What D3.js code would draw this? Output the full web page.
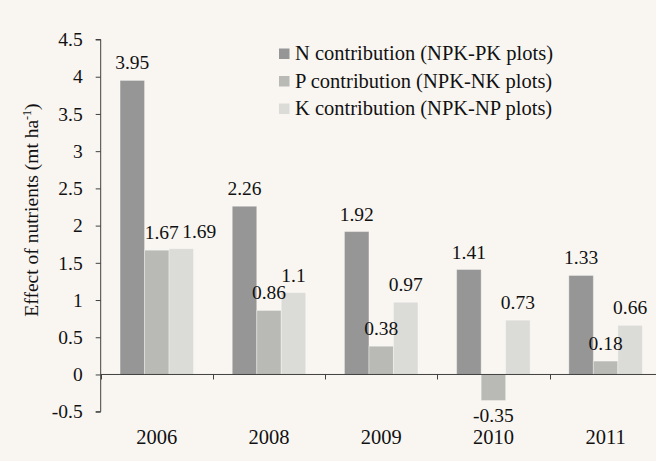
<!DOCTYPE html>
<html>
<head>
<meta charset="utf-8">
<script src="https://cdn.jsdelivr.net/npm/d3@7"></script>
<style>
  html, body { margin: 0; padding: 0; background: #f9f6f2; }
  svg { display: block; }
</style>
</head>
<body>
<svg id="chart" width="656" height="461"></svg>
<script>
// ---- data ----
const years = ["2006", "2008", "2009", "2010", "2011"];
const seriesNames = [
  "N contribution (NPK-PK plots)",
  "P contribution (NPK-NK plots)",
  "K contribution (NPK-NP plots)"
];
const nValues = [3.95, 2.26, 1.92, 1.41, 1.33];
const pValues = [1.67, 0.86, 0.38, -0.35, 0.18];
const kValues = [1.69, 1.1, 0.97, 0.73, 0.66];
const yTicks = [-0.5, 0, 0.5, 1, 1.5, 2, 2.5, 3, 3.5, 4, 4.5];

// ---- layout / style ----
const W = 656, H = 461;
const FONT = "Liberation Serif";
const colors = ["#969696", "#b9b9b5", "#dbdbd8"];
const labelNudge = { "2006|1": 5, "2006|2": 18 }; // manual label shifts seen in reference

const svg = d3.select("#chart");
svg.append("rect").attr("width", W).attr("height", H).attr("fill", "#f9f6f2");

const x0 = d3.scaleBand().domain(years).range([100.7, 661.7]).paddingInner(0).paddingOuter(0);
const x1 = d3.scaleBand().domain(d3.range(seriesNames.length))
  .range([0, x0.bandwidth()]).paddingInner(0).paddingOuter(0.79);
const y = d3.scaleLinear().domain([-0.5, 4.5]).range([411.7, 39.5]);

const seriesValues = [nValues, pValues, kValues];
const rows = [];
years.forEach((yr, i) => {
  seriesValues.forEach((vals, s) => rows.push({ year: yr, s, v: vals[i] }));
});

function styleText(sel, size) {
  sel.attr("font-family", FONT).style("font-family", FONT)
     .attr("font-size", size).attr("fill", "#111");
  return sel;
}

// bars
svg.append("g").selectAll("rect").data(rows).join("rect")
  .attr("x", d => x0(d.year) + x1(d.s))
  .attr("width", x1.bandwidth())
  .attr("y", d => y(Math.max(0, d.v)))
  .attr("height", d => Math.abs(y(d.v) - y(0)))
  .attr("fill", d => colors[d.s])
  .attr("stroke", "rgba(255,255,255,0.35)")
  .attr("stroke-width", 1);

// value labels
styleText(svg.append("g").selectAll("text").data(rows).join("text")
  .attr("x", d => x0(d.year) + x1(d.s) + x1.bandwidth() / 2 + (labelNudge[d.year + "|" + d.s] || 0))
  .attr("y", d => d.v >= 0 ? y(d.v) - 11 : y(d.v) + 21.5)
  .attr("text-anchor", "middle")
  .text(d => String(d.v)), 19.5);

// y axis
const yAxis = d3.axisLeft(y).tickValues(yTicks).tickSize(5).tickPadding(13)
  .tickFormat(d => String(d));
const gy = svg.append("g").attr("transform", `translate(${x0.range()[0]},0)`).call(yAxis);
gy.attr("font-family", FONT);
gy.select(".domain").attr("stroke", "#404040").attr("d", `M-5,${y(4.5)}H0V${y(-0.5)}H-5`);
gy.selectAll(".tick line").attr("stroke", "#404040");
styleText(gy.selectAll(".tick text"), 19.5);

// x axis line at zero
const gx = svg.append("g");
gx.append("line")
  .attr("x1", x0.range()[0]).attr("x2", W)
  .attr("y1", y(0)).attr("y2", y(0))
  .attr("stroke", "#404040").attr("stroke-width", 1);
gx.selectAll("line.tk").data(years).join("line").attr("class", "tk")
  .attr("x1", d => Math.round(x0(d)) + 0.5).attr("x2", d => Math.round(x0(d)) + 0.5)
  .attr("y1", y(0)).attr("y2", y(0) + 5)
  .attr("stroke", "#404040");
styleText(gx.selectAll("text").data(years).join("text")
  .attr("x", d => x0(d) + x0.bandwidth() / 2)
  .attr("y", 444)
  .attr("text-anchor", "middle")
  .text(d => d), 20.5);

// y axis title
const title = styleText(svg.append("text")
  .attr("transform", "translate(38,210) rotate(-90)")
  .attr("text-anchor", "middle"), 19.5);
title.append("tspan").text("Effect of nutrients (mt ha");
title.append("tspan").attr("dy", -7).attr("font-size", 12).text("-1");
title.append("tspan").attr("dy", 7).text(")");

// legend
const lg = svg.append("g").attr("transform", "translate(279,0)");
seriesNames.forEach((name, i) => {
  const by = 60 + i * 27.5;
  lg.append("rect").attr("x", 0).attr("y", by - 11.5).attr("width", 10.5).attr("height", 10.5)
    .attr("fill", colors[i]);
  styleText(lg.append("text").attr("x", 16).attr("y", by).text(name), 20.5);
});
</script>
</body>
</html>
